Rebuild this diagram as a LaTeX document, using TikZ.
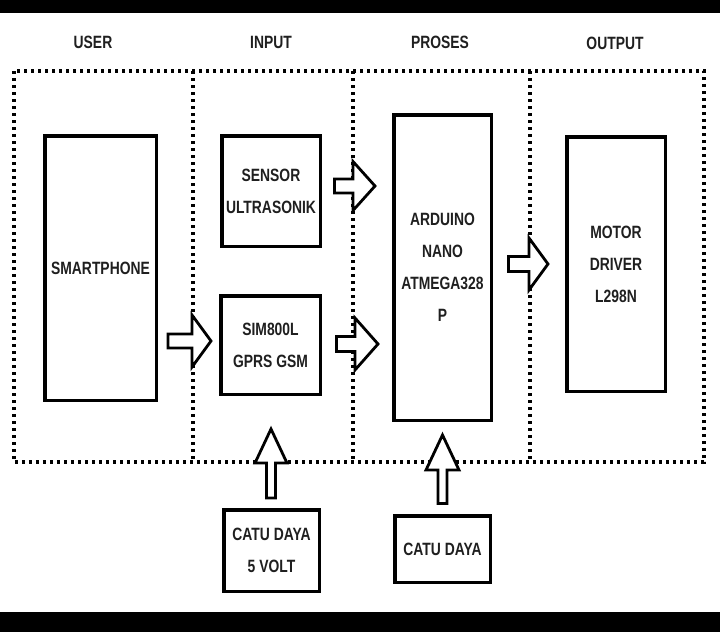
\documentclass[tikz,border=0pt]{standalone}
\usepackage{fontspec}
\newfontfamily\lbl[FakeStretch=0.78]{Liberation Sans}
\usetikzlibrary{calc}
\begin{document}
\begin{tikzpicture}[x=1pt,y=-1pt,
  box/.style={draw, line width=3.5pt, fill=white, align=center, inner sep=0pt,
    font=\lbl\bfseries\fontsize{17.8}{32}\selectfont, text=black!88},
  ttl/.style={font=\lbl\bfseries\fontsize{17.8}{18}\selectfont, text=black!88},
  dotl/.style={line width=3.4pt, dash pattern=on 3.2pt off 3.8pt},
  barrow/.style={draw, line width=2.8pt, fill=white, line join=miter}]
\useasboundingbox (0,0) rectangle (720,632);
% black bars
\fill[black] (0,0) rectangle (720,13);
\fill[black] (0,612) rectangle (720,632);
% titles
\node[ttl] (tuser) at (93,42) {USER};
\node[ttl] (tinput) at (271,42) {INPUT};
\node[ttl] (tproses) at (440,42) {PROSES};
\node[ttl] (toutput) at (615,43) {OUTPUT};
% dotted frame
\draw[dotl] (14,71) rectangle (704,462);
\draw[dotl] (193,71) -- (193,462);
\draw[dotl] (353,71) -- (353,462);
\draw[dotl] (530,71) -- (530,462);
% boxes
\node[box, minimum width=111.5pt, minimum height=264.5pt] (smart) at (100.5,268) {SMARTPHONE};
\node[box, minimum width=98.5pt, minimum height=110.5pt] (sensor) at (271,191) {SENSOR\\ULTRASONIK};
\node[box, minimum width=99.5pt, minimum height=98.5pt] (sim) at (270.5,345) {SIM800L\\GPRS GSM};
\node[box, minimum width=97.5pt, minimum height=305.5pt] (ard) at (442.5,267.5) {ARDUINO\\NANO\\ATMEGA328\\P};
\node[box, minimum width=98.5pt, minimum height=254.5pt] (motor) at (616,264) {MOTOR\\DRIVER\\L298N};
\node[box, minimum width=95.5pt, minimum height=81.5pt] (cd5) at (271.5,550.5) {CATU DAYA\\5 VOLT};
\node[box, minimum width=95.5pt, minimum height=66.5pt] (cd) at (442.5,549) {CATU DAYA};
% arrow end points
\coordinate (a1s) at ($(smart.east)+(10,73)$);
\coordinate (a1t) at ($(sim.west)+(-8,-4)$);
\coordinate (a2s) at ($(sensor.east)+(12.5,-5)$);
\coordinate (a2t) at ($(ard.west)+(-17,-81.5)$);
\coordinate (a3s) at ($(sim.east)+(14.5,-1)$);
\coordinate (a3t) at ($(ard.west)+(-14,76.5)$);
\coordinate (a4s) at ($(ard.east)+(15.5,-3.5)$);
\coordinate (a4t) at ($(motor.west)+(-17,0)$);
\coordinate (a5s) at ($(cd5.north)+(-0.5,-10)$);
\coordinate (a5t) at ($(sim.south)+(0.5,33)$);
\coordinate (a6s) at ($(cd.north)+(0,-10.5)$);
\coordinate (a6t) at ($(ard.south)+(0,13)$);
% block arrows
\draw[barrow] let \p1=(a1s), \p2=(a1t) in
  (\x1,\y1+7pt) -- (\x2-19pt,\y1+7pt) -- (\x2-19pt,\y1+26pt) -- (\x2,\y1) --
  (\x2-19pt,\y1-26pt) -- (\x2-19pt,\y1-7pt) -- (\x1,\y1-7pt) -- cycle;
\draw[barrow] let \p1=(a2s), \p2=(a2t) in
  (\x1,\y1+7pt) -- (\x2-22pt,\y1+7pt) -- (\x2-22pt,\y1+24.5pt) -- (\x2,\y1) --
  (\x2-22pt,\y1-24.5pt) -- (\x2-22pt,\y1-7pt) -- (\x1,\y1-7pt) -- cycle;
\draw[barrow] let \p1=(a3s), \p2=(a3t) in
  (\x1,\y1+7.5pt) -- (\x2-23pt,\y1+7.5pt) -- (\x2-23pt,\y1+26pt) -- (\x2,\y1) --
  (\x2-23pt,\y1-26pt) -- (\x2-23pt,\y1-7.5pt) -- (\x1,\y1-7.5pt) -- cycle;
\draw[barrow] let \p1=(a4s), \p2=(a4t) in
  (\x1,\y1+7.5pt) -- (\x2-19pt,\y1+7.5pt) -- (\x2-19pt,\y1+26pt) -- (\x2,\y1) --
  (\x2-19pt,\y1-26pt) -- (\x2-19pt,\y1-7.5pt) -- (\x1,\y1-7.5pt) -- cycle;
\draw[barrow] let \p1=(a5s), \p2=(a5t) in
  (\x1-4.5pt,\y1) -- (\x1-4.5pt,\y2-34pt) -- (\x1-16pt,\y2-34pt) -- (\x1,\y2) --
  (\x1+16pt,\y2-34pt) -- (\x1+4.5pt,\y2-34pt) -- (\x1+4.5pt,\y1) -- cycle;
\draw[barrow] let \p1=(a6s), \p2=(a6t) in
  (\x1-4.5pt,\y1) -- (\x1-4.5pt,\y2-35pt) -- (\x1-16.5pt,\y2-35pt) -- (\x1,\y2) --
  (\x1+16.5pt,\y2-35pt) -- (\x1+4.5pt,\y2-35pt) -- (\x1+4.5pt,\y1) -- cycle;
\end{tikzpicture}
\end{document}
